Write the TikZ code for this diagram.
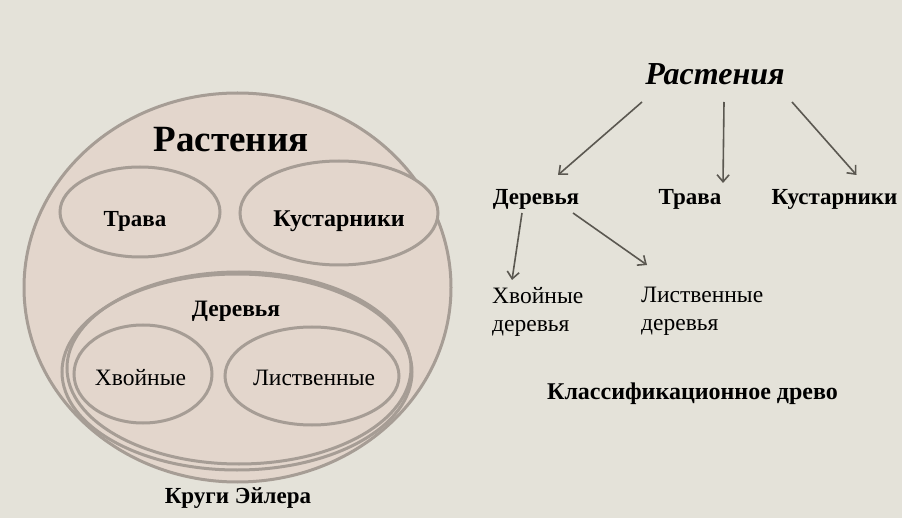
\documentclass[tikz,border=0pt]{standalone}
\usepackage{fontspec}
\setmainfont{Liberation Serif}
\usetikzlibrary{arrows.meta}
\definecolor{paper}{HTML}{E4E2D9}
\definecolor{setfill}{HTML}{E3D6CC}
\definecolor{setline}{HTML}{A69D95}
\definecolor{arrowgray}{HTML}{5B5851}

\begin{document}
\begin{tikzpicture}[x=1bp,y=-1bp]
  \tikzset{setstyle/.style={draw=setline, line width=3bp, fill=setfill},
    boldlabel/.style={font=\fontsize{23bp}{26bp}\selectfont\bfseries, anchor=base, inner sep=1bp},
    plainlabel/.style={font=\fontsize{23.5bp}{28bp}\selectfont, anchor=base, inner sep=1bp},
    treearrow/.style={draw=arrowgray, line width=1.6bp, -{Straight Barb[length=7bp,width=12bp]}}}
  % Paper background
  \fill[paper] (0,0) rectangle (902,518);
  % Euler circles
  \draw[setstyle] (237.5,287.5) ellipse (213.5 and 194.5);
  \draw[setstyle] (140,212) ellipse (80 and 45);
  \draw[setstyle] (339,213) ellipse (99 and 52);
  \draw[setstyle] (237,372) ellipse (175 and 98);
  \draw[draw=setline, line width=3bp] (239,368) ellipse (172 and 96);
  \draw[setstyle] (143,374) ellipse (69 and 49);
  \draw[setstyle] (312,376) ellipse (87 and 49);
  \node[boldlabel, font=\fontsize{37bp}{40bp}\selectfont\bfseries] (eulerroot) at (231,152) {Растения};
  \node[boldlabel] (eulergrass) at (135,227) {Трава};
  \node[boldlabel, font=\fontsize{24bp}{26bp}\selectfont\bfseries] (eulerbush) at (339,227) {Кустарники};
  \node[boldlabel, font=\fontsize{23.5bp}{26bp}\selectfont\bfseries] (eulertree) at (236,317) {Деревья};
  \node[plainlabel] (eulerconif) at (140.5,385) {Хвойные};
  \node[plainlabel] (eulerdecid) at (314,385) {Лиственные};
  \node[boldlabel] (eulercaption) at (238,503) {Круги Эйлера};
  % Classification tree
  \node[boldlabel, font=\fontsize{32bp}{36bp}\selectfont\bfseries\itshape] (treeroot) at (715,85) {Растения};
  \node[boldlabel] (treetree) at (536,205) {Деревья};
  \node[boldlabel] (treegrass) at (690,205) {Трава};
  \node[boldlabel] (treebush) at (834.5,205) {Кустарники};
  \node[plainlabel, anchor=north west, align=left, inner sep=0pt] (treeconif) at (492,287) {Хвойные\\деревья};
  \node[plainlabel, anchor=north west, align=left, inner sep=0pt] (treedecid) at (641,287) {Лиственные\\деревья};
  \node[boldlabel, font=\fontsize{24bp}{26bp}\selectfont\bfseries] (treecaption) at (692.5,399) {Классификационное древо};
  \draw[treearrow] ([shift={(-73,17)}]treeroot.base) -- ([shift={(22,-30)}]treetree.base);
  \draw[treearrow] ([shift={(9,17)}]treeroot.base) -- ([shift={(33,-22)}]treegrass.base);
  \draw[treearrow] ([shift={(77,17)}]treeroot.base) -- ([shift={(22,-30)}]treebush.base);
  \draw[treearrow] ([shift={(-14,8)}]treetree.base) -- ([shift={(20,-7)}]treeconif.north west);
  \draw[treearrow] ([shift={(37,8)}]treetree.base) -- ([shift={(6,-22)}]treedecid.north west);
\end{tikzpicture}
\end{document}
